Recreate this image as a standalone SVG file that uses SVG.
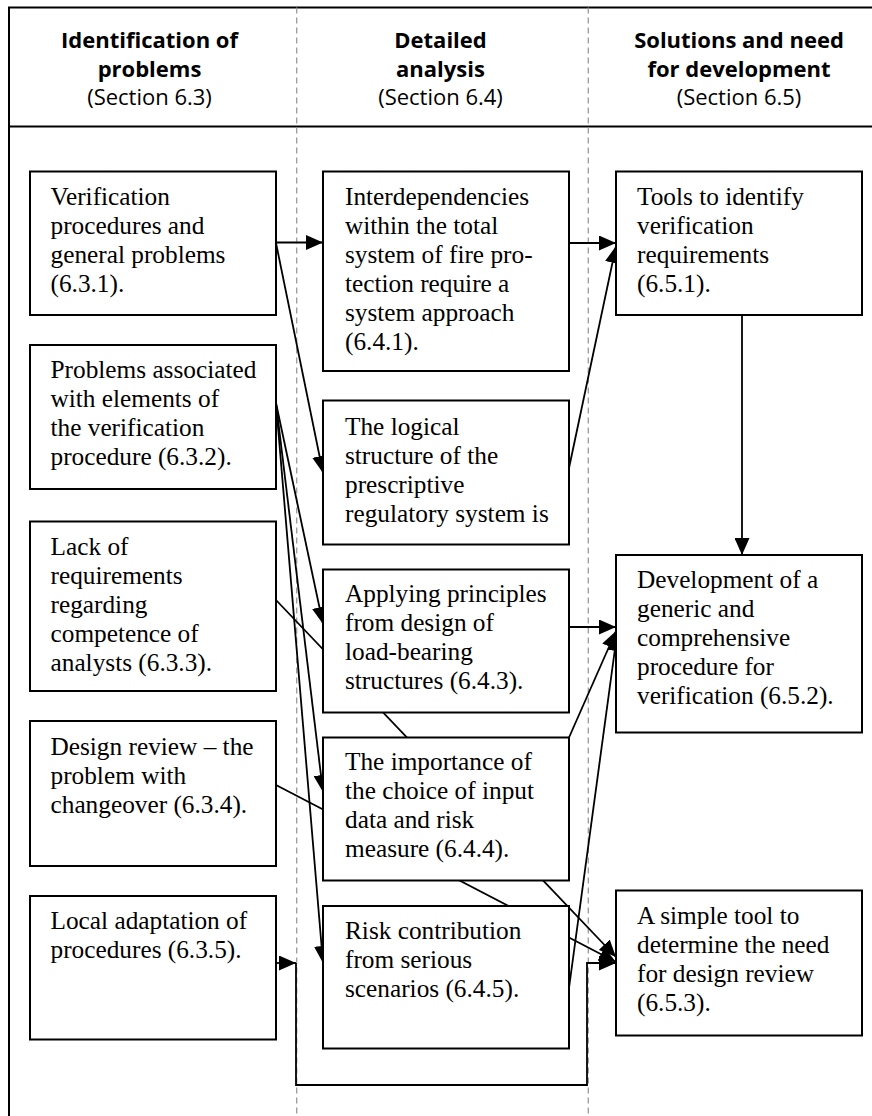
<svg xmlns="http://www.w3.org/2000/svg" width="872" height="1116" viewBox="0 0 872 1116">
<style>
.frame{fill:none;stroke:#000;stroke-width:2}
.dash{fill:none;stroke:#9a9a9a;stroke-width:1.3;stroke-dasharray:6 4}
.box{fill:#fff;stroke:#000;stroke-width:2}
.t{font-family:"Liberation Serif","Times New Roman",serif;font-size:25.3px;fill:#000}
.h{font-family:"Open Sans","Noto Sans",sans-serif;font-size:22px;fill:#000;text-anchor:middle}
.hb{font-weight:bold}
.c{fill:none;stroke:#000;stroke-width:1.8}
</style>
<defs>
<marker id="ah" viewBox="0 0 17 15" refX="17" refY="7.5" markerWidth="17" markerHeight="15" markerUnits="userSpaceOnUse" orient="auto"><path d="M0,0 L17,7.5 L0,15 z" fill="#000"/></marker>
</defs>
<rect width="872" height="1116" fill="#fff"/>
<g id="frame">
<path class="frame" d="M9,1116 V7.5 H872"/>
<path class="frame" d="M9,126.5 H872"/>
<path class="dash" d="M296.7,7.5 V1116"/>
<path class="dash" d="M588.3,7.5 V1116"/>
</g>
<g id="headers">
<text class="h hb" x="149.5" y="48">Identification of</text>
<text class="h hb" x="149.5" y="77">problems</text>
<text class="h" x="149.5" y="105">(Section 6.3)</text>
<text class="h hb" x="440.5" y="48">Detailed</text>
<text class="h hb" x="440.5" y="77">analysis</text>
<text class="h" x="440.5" y="105">(Section 6.4)</text>
<text class="h hb" x="739" y="48">Solutions and need</text>
<text class="h hb" x="739" y="77">for development</text>
<text class="h" x="739" y="105">(Section 6.5)</text>
</g>
<g id="connectors">
<path class="c" marker-end="url(#ah)" d="M276,242.5 H323"/>
<path class="c" marker-end="url(#ah)" d="M276,243 L323,473"/>
<path class="c" marker-end="url(#ah)" d="M569,243 H616"/>
<path class="c" marker-end="url(#ah)" d="M569,468 L616,246"/>
<path class="c" marker-end="url(#ah)" d="M742,315 V555"/>
<path class="c" marker-end="url(#ah)" d="M276,403 L323,624"/>
<path class="c" marker-end="url(#ah)" d="M276,403 L323,792"/>
<path class="c" marker-end="url(#ah)" d="M276,403 L323,963"/>
<path class="c" marker-end="url(#ah)" d="M276,600 L616,957"/>
<path class="c" marker-end="url(#ah)" d="M276,785 L616,962"/>
<path class="c" marker-end="url(#ah)" d="M569,627 H616"/>
<path class="c" marker-end="url(#ah)" d="M569,737.5 L616,631"/>
<path class="c" marker-end="url(#ah)" d="M569,988 L617,634"/>
<path class="c" marker-end="url(#ah)" d="M276,963 H296"/>
<path class="c" marker-end="url(#ah)" d="M296,963 V1085 H587 V963 H616"/>
</g>
<g id="L1"><rect class="box" x="30" y="171.5" width="246" height="143.5"/>
<text class="t" x="50.5" y="205">Verification</text><text class="t" x="50.5" y="234">procedures and</text><text class="t" x="50.5" y="263">general problems</text><text class="t" x="50.5" y="292">(6.3.1).</text></g>
<g id="L2"><rect class="box" x="30" y="345" width="246" height="144"/>
<text class="t" x="50.5" y="378">Problems associated</text><text class="t" x="50.5" y="407">with elements of</text><text class="t" x="50.5" y="436">the verification</text><text class="t" x="50.5" y="465">procedure (6.3.2).</text></g>
<g id="L3"><rect class="box" x="30" y="521.5" width="246" height="169.5"/>
<text class="t" x="50.5" y="555">Lack of</text><text class="t" x="50.5" y="584">requirements</text><text class="t" x="50.5" y="613">regarding</text><text class="t" x="50.5" y="642">competence of</text><text class="t" x="50.5" y="671">analysts (6.3.3).</text></g>
<g id="L4"><rect class="box" x="30" y="721" width="246" height="145"/>
<text class="t" x="50.5" y="755">Design review – the</text><text class="t" x="50.5" y="784">problem with</text><text class="t" x="50.5" y="813">changeover (6.3.4).</text></g>
<g id="L5"><rect class="box" x="30" y="896" width="246" height="143.5"/>
<text class="t" x="50.5" y="929">Local adaptation of</text><text class="t" x="50.5" y="958">procedures (6.3.5).</text></g>
<g id="M1"><rect class="box" x="323" y="171.5" width="246" height="199.5"/>
<text class="t" x="345" y="205">Interdependencies</text><text class="t" x="345" y="234">within the total</text><text class="t" x="345" y="263">system of fire pro-</text><text class="t" x="345" y="292">tection require a</text><text class="t" x="345" y="321">system approach</text><text class="t" x="345" y="350">(6.4.1).</text></g>
<g id="M2"><rect class="box" x="323" y="400.5" width="246" height="144"/>
<text class="t" x="345" y="435">The logical</text><text class="t" x="345" y="464">structure of the</text><text class="t" x="345" y="493">prescriptive</text><text class="t" x="345" y="522">regulatory system is</text></g>
<g id="M3"><rect class="box" x="323" y="569.5" width="246" height="143"/>
<text class="t" x="345" y="602">Applying principles</text><text class="t" x="345" y="631">from design of</text><text class="t" x="345" y="660">load-bearing</text><text class="t" x="345" y="689">structures (6.4.3).</text></g>
<g id="M4"><rect class="box" x="323" y="737.5" width="246" height="143"/>
<text class="t" x="345" y="770">The importance of</text><text class="t" x="345" y="799">the choice of input</text><text class="t" x="345" y="828">data and risk</text><text class="t" x="345" y="857">measure (6.4.4).</text></g>
<g id="M5"><rect class="box" x="323" y="906" width="246" height="142.5"/>
<text class="t" x="345" y="939">Risk contribution</text><text class="t" x="345" y="968">from serious</text><text class="t" x="345" y="997">scenarios (6.4.5).</text></g>
<g id="R1"><rect class="box" x="616" y="171.5" width="246" height="143.5"/>
<text class="t" x="637" y="205">Tools to identify</text><text class="t" x="637" y="234">verification</text><text class="t" x="637" y="263">requirements</text><text class="t" x="637" y="292">(6.5.1).</text></g>
<g id="R2"><rect class="box" x="616" y="555" width="246" height="177.5"/>
<text class="t" x="637" y="588">Development of a</text><text class="t" x="637" y="617">generic and</text><text class="t" x="637" y="646">comprehensive</text><text class="t" x="637" y="675">procedure for</text><text class="t" x="637" y="704">verification (6.5.2).</text></g>
<g id="R3"><rect class="box" x="616" y="890.5" width="246" height="145"/>
<text class="t" x="637" y="924">A simple tool to</text><text class="t" x="637" y="953">determine the need</text><text class="t" x="637" y="982">for design review</text><text class="t" x="637" y="1011">(6.5.3).</text></g>
</svg>
